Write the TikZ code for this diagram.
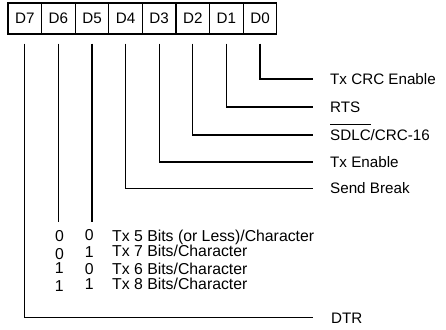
\documentclass[tikz,border=0pt]{standalone}
\usepackage{fontspec}
\setmainfont{Liberation Sans}
\newcommand{\ovl}[1]{\setbox0\hbox{#1}\rlap{\rule[1.0em]{\wd0}{0.9pt}}\box0}
\newcommand{\labfont}{\fontsize{15.2}{18}\selectfont}
\newcommand{\tabfont}{\fontsize{15.8}{18}\selectfont}
\tikzset{
  cell/.style={draw, line width=1.2pt, minimum width=33.6pt, minimum height=31pt, inner sep=0pt, font=\labfont},
  wire/.style={line width=1.3pt},
  lab/.style={anchor=base west, inner sep=0pt, font=\labfont},
  row/.style={anchor=base west, inner sep=0pt, font=\tabfont},
  bit/.style={anchor=base, inner sep=0pt, font=\tabfont},
}
\begin{document}
\begin{tikzpicture}[x=1pt,y=-1pt]
\useasboundingbox (0,0) rectangle (446,329);
% register cells
\foreach \n [count=\i from 0] in {7,6,5,4,3,2,1,0}
  \node[cell] (d\n) at (24.8+33.6*\i,18.5) {D\n};
% line end coordinates
\coordinate (e0) at (313,79);
\coordinate (e1) at (313,107);
\coordinate (e2) at (313,135);
\coordinate (e3) at (313,162);
\coordinate (e4) at (313,188.5);
\coordinate (e7) at (313,317.7);
\coordinate (t6) at (d6.south |- 0,222);
\coordinate (t5) at (d5.south |- 0,222);
% connectors
\draw[wire] ([yshift=-9pt]d0.south) |- (e0);
\draw[wire] ([yshift=-9pt]d1.south) |- (e1);
\draw[wire] ([yshift=-9pt]d2.south) |- (e2);
\draw[wire] ([yshift=-9pt]d3.south) |- (e3);
\draw[wire] ([yshift=-9pt]d4.south) |- (e4);
\draw[wire] ([yshift=-9pt]d7.south) |- (e7);
\draw[wire] ([yshift=-9pt]d6.south) -- (t6);
\draw[wire] ([yshift=-9pt]d5.south) -- (t5);
% labels
\node[lab] (l0) at (330,84.4) {Tx CRC Enable};
\node[lab] (l1) at (330,112.4) {RTS};
\node[lab] (l2) at (330,140.4) {\ovl{SDLC}/CRC-16};
\node[lab] (l3) at (330,167.4) {Tx Enable};
\node[lab] (l4) at (330,193.9) {Send Break};
\node[lab] (l7) at (331,323.2) {DTR};
% bit table
\node[bit] (a1) at (59.5,241.5) {0};
\node[bit] (b1) at (89.3,240.9) {0};
\node[row] (r1) at (112,241.3) {Tx 5 Bits (or Less)/Character};
\node[bit] (a2) at (59.5,259.1) {0};
\node[bit] (b2) at (89.3,257.9) {1};
\node[row] (r2) at (112,256.4) {Tx 7 Bits/Character};
\node[bit] (a3) at (59.3,273.4) {1};
\node[bit] (b3) at (89.3,274.2) {0};
\node[row] (r3) at (112,274.5) {Tx 6 Bits/Character};
\node[bit] (a4) at (59.3,291.9) {1};
\node[bit] (b4) at (89.3,289.8) {1};
\node[row] (r4) at (112,289.8) {Tx 8 Bits/Character};
\end{tikzpicture}
\end{document}
